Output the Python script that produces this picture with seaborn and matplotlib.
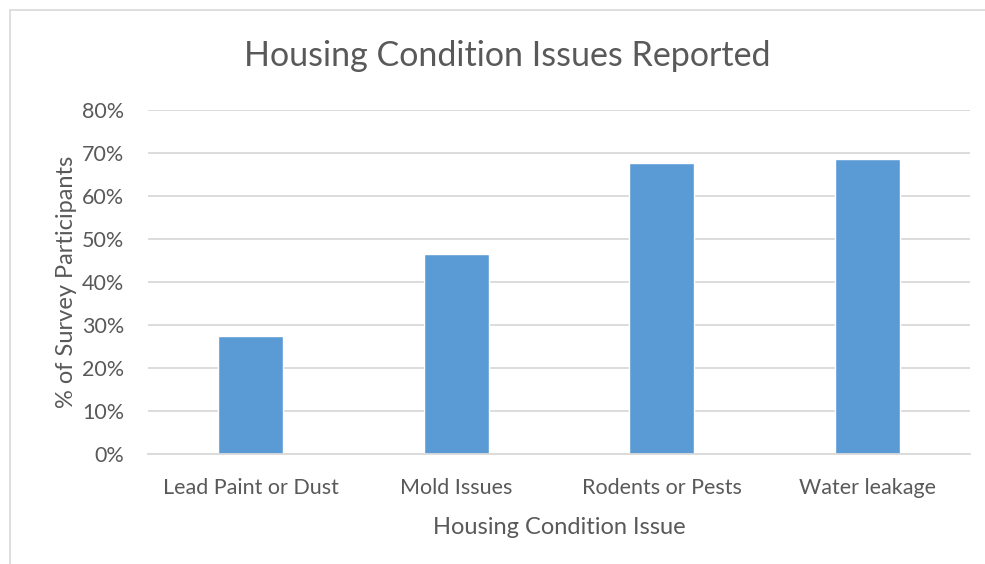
import numpy as np
import pandas as pd
import matplotlib
matplotlib.use("Agg")
import matplotlib.pyplot as plt
import matplotlib.patches as mpatches
from matplotlib.ticker import PercentFormatter
import seaborn as sns

# --- data ------------------------------------------------------------------
issues = ["Lead Paint or Dust", "Mold Issues", "Rodents or Pests", "Water leakage"]
pct_participants = [27.5, 46.6, 67.6, 68.7]
y_ticks = [0, 10, 20, 30, 40, 50, 60, 70, 80]

BAR_COLOR = "#5B9BD5"
TEXT_COLOR = "#595959"
GRID_COLOR = "#D9D9D9"

sns.set_style("white")
plt.rcParams["font.family"] = ["Lato", "DejaVu Sans"]

df = pd.DataFrame({"issue": issues, "pct": pct_participants})

fig = plt.figure(figsize=(9.85, 5.64), dpi=100)
ax = fig.add_axes([148 / 985, 1 - 454 / 564, 822 / 985, 344 / 564])

sns.barplot(data=df, x="issue", y="pct", order=issues, color=BAR_COLOR,
            width=0.316, saturation=1, ax=ax)

ax.set_ylim(0, 80)
ax.set_yticks(y_ticks)
ax.yaxis.set_major_formatter(PercentFormatter(decimals=0))
ax.set_xlim(-0.5, len(issues) - 0.5)
ax.grid(axis="y", color=GRID_COLOR, linewidth=1.3)
ax.set_axisbelow(True)
for side in ["top", "right", "left"]:
    ax.spines[side].set_visible(False)
ax.spines["bottom"].set_color(GRID_COLOR)
ax.spines["bottom"].set_linewidth(1.3)
ax.tick_params(axis="both", length=0, labelsize=15.5, colors=TEXT_COLOR)
ax.tick_params(axis="y", pad=17)
ax.tick_params(axis="x", pad=17)

ax.set_xlabel("Housing Condition Issue", fontsize=17, color=TEXT_COLOR, labelpad=14)
ax.set_ylabel("% of Survey Participants", fontsize=17, color=TEXT_COLOR, labelpad=4)
fig.text(507 / 985, 1 - 56 / 564, "Housing Condition Issues Reported",
         ha="center", va="center", fontsize=24.5, color=TEXT_COLOR)

# chart area outline, like the Excel frame
fig.patches.append(mpatches.Rectangle((10 / 985, -0.05), 1.2, 1 - 10 / 564 + 0.05,
                                      transform=fig.transFigure, fill=False,
                                      edgecolor=GRID_COLOR, linewidth=1.2))

fig.savefig("out.png", dpi=100, facecolor="white")
